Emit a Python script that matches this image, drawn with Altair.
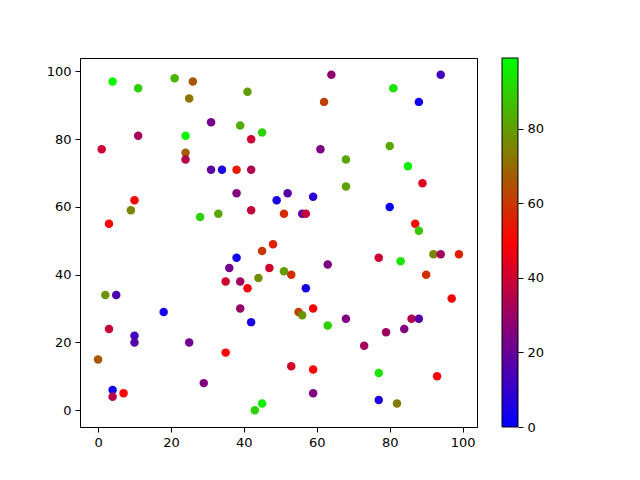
import altair as alt
import pandas as pd

xs = [4, 11, 21, 26, 25, 41, 31, 39, 45, 42, 11, 24, 1, 24, 24, 31, 34, 38, 42, 38,
      49, 10, 9, 3, 28, 33, 42, 48, 51, 64, 94, 81, 62, 88, 61, 80, 68, 85, 68, 89,
      52, 59, 80, 56, 57, 87, 88, 38, 45, 36, 47, 44, 35, 39, 41, 2, 5, 18, 39, 42,
      3, 10, 10, 25, 35, 0, 29, 4, 4, 7, 45, 43, 77, 83, 92, 94, 99, 63, 51, 53,
      90, 57, 97, 55, 56, 59, 63, 68, 86, 88, 79, 84, 73, 53, 59, 77, 93, 59, 77, 82]
ys = [97, 95, 98, 97, 92, 94, 85, 84, 82, 80, 81, 81, 77, 76, 74, 71, 71, 71, 71, 64,
      62, 62, 59, 55, 57, 58, 59, 49, 58, 99, 99, 95, 91, 91, 77, 78, 74, 72, 66, 67,
      64, 63, 60, 58, 58, 55, 53, 45, 47, 42, 42, 39, 38, 38, 36, 34, 34, 29, 30, 26,
      24, 22, 20, 20, 17, 15, 8, 6, 4, 5, 2, 0, 45, 44, 46, 46, 46, 43, 41, 40,
      40, 36, 33, 29, 28, 30, 25, 27, 27, 27, 23, 24, 19, 13, 12, 11, 10, 5, 3, 2]
cs = [97, 90, 85, 66, 72, 80, 23, 83, 90, 40, 32, 98, 40, 67, 35, 18, 6, 55, 34, 25,
      5, 49, 75, 50, 90, 82, 38, 56, 58, 28, 13, 94, 62, 3, 24, 82, 82, 96, 81, 43,
      17, 8, 2, 17, 38, 52, 88, 3, 60, 22, 40, 77, 40, 31, 48, 78, 15, 4, 30, 5,
      38, 13, 17, 22, 50, 66, 25, 3, 36, 50, 96, 90, 40, 94, 75, 32, 56, 25, 80, 58,
      58, 4, 48, 62, 78, 49, 90, 25, 35, 17, 31, 25, 32, 41, 50, 94, 48, 25, 6, 73]
cbar_ticks = [0, 20, 40, 60, 80]

cmin, cmax = 0, 99
df = pd.DataFrame({"x": xs, "y": ys, "c": cs})
tdf = pd.DataFrame({"v": cbar_ticks})

font = "DejaVu Sans"
ticks = [0, 20, 40, 60, 80, 100]

points = alt.Chart(df).mark_circle(size=72, opacity=1).encode(
    x=alt.X("x:Q", scale=alt.Scale(domain=[-4.95, 103.95], nice=False, zero=False),
            axis=alt.Axis(values=ticks, title=None, grid=False, format="d")),
    y=alt.Y("y:Q", scale=alt.Scale(domain=[-4.95, 103.95], nice=False, zero=False),
            axis=alt.Axis(values=ticks, title=None, grid=False, format="d")),
    color=alt.Color("c:Q",
                    scale=alt.Scale(domain=[cmin, (cmin + cmax) / 2, cmax],
                                    range=["#0000ff", "#ff0000", "#00ff00"],
                                    interpolate="rgb"),
                    legend=alt.Legend(title=None, orient="none", legendX=422, legendY=0,
                                      direction="vertical", gradientLength=369,
                                      gradientThickness=16, labelExpr="''",
                                      gradientStrokeColor="black", gradientStrokeWidth=1)),
)

cbar_axis = alt.Chart(tdf).mark_point(opacity=0).encode(
    y=alt.Y("v:Q", scale=alt.Scale(domain=[cmin, cmax], nice=False, zero=False),
            axis=alt.Axis(orient="right", values=cbar_ticks, title=None, grid=False,
                          domain=False, offset=41, format="d")),
)

chart = alt.layer(points, cbar_axis).resolve_scale(y="independent").properties(
    width=397, height=369,
    autosize=alt.AutoSizeParams(type="none"),
    padding={"left": 72, "top": 50, "right": 140, "bottom": 45},
).configure_axis(
    domainColor="black", tickColor="black", labelColor="black",
    labelFont=font, labelFontSize=13, tickSize=5, labelPadding=4,
).configure_view(
    stroke="black", strokeWidth=1,
)

chart.save("out.html", embed_options={"renderer": "svg", "actions": False})
